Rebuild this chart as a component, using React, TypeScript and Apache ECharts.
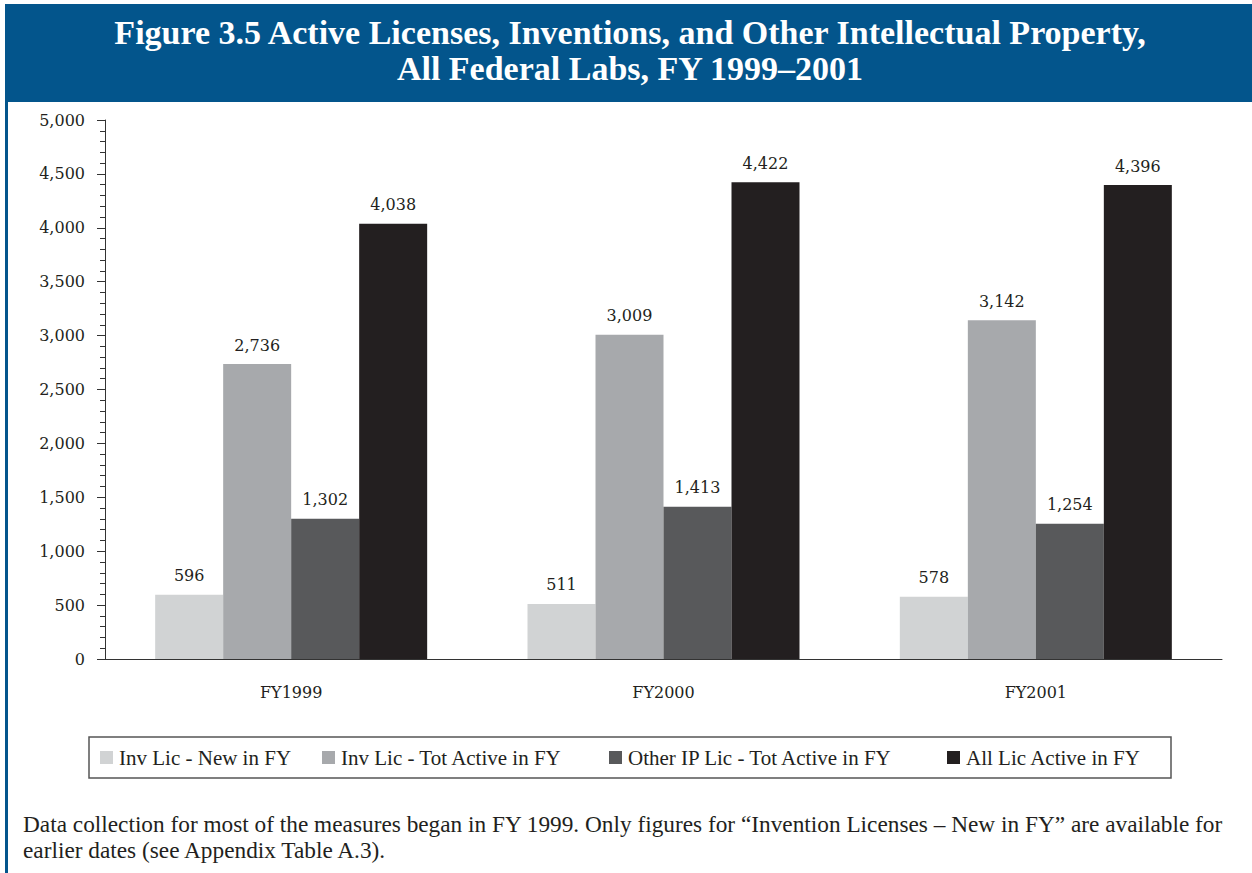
import React, { useEffect, useRef } from "react";
import * as echarts from "echarts";

const categories = ["FY1999", "FY2000", "FY2001"];
const seriesNames = [
  "Inv Lic - New in FY",
  "Inv Lic - Tot Active in FY",
  "Other IP Lic - Tot Active in FY",
  "All Lic Active in FY",
];
const invLicNew = [596, 511, 578];
const invLicTot = [2736, 3009, 3142];
const otherIpLic = [1302, 1413, 1254];
const allLicActive = [4038, 4422, 4396];
const seriesValues = [invLicNew, invLicTot, otherIpLic, allLicActive];
const seriesColors = ["#d1d3d4", "#a7a9ac", "#58595b", "#231f20"];
const titleLines = [
  "Figure 3.5 Active Licenses, Inventions, and Other Intellectual Property,",
  "All Federal Labs, FY 1999–2001",
];
const footnoteLines = [
  "Data collection for most of the measures began in FY 1999. Only figures for \u201cInvention Licenses \u2013 New in FY\u201d are available for",
  "earlier dates (see Appendix Table A.3).",
];

const fmt = (v: number) => v.toLocaleString("en-US");
const SERIF = '"DejaVu Serif", serif';
const TIMES = '"Liberation Serif", serif';
const INK = "#231f20";

export default function App() {
  const ref = useRef<HTMLDivElement>(null);
  useEffect(() => {
    if (!ref.current) return;
    const chart = echarts.init(ref.current, undefined, { renderer: "svg" });
    const legendLefts = [100, 322, 609, 947];
    const option: any = {
      animation: false,
      backgroundColor: "#ffffff",
      grid: { left: 105, right: 30, top: 120, bottom: 214 },
      legend: seriesNames.map((n, i) => ({
        data: [n],
        left: legendLefts[i],
        top: 747,
        padding: 0,
        itemWidth: 13,
        itemHeight: 13,
        icon: "rect",
        selectedMode: false,
        textStyle: { fontFamily: TIMES, fontSize: 21, color: INK, padding: [0, 0, 0, 1] },
      })),
      xAxis: {
        type: "category",
        data: categories,
        axisLine: { lineStyle: { color: "#333", width: 1 } },
        axisTick: { length: 8, lineStyle: { color: "#333" } },
        axisLabel: { margin: 25, fontFamily: SERIF, fontSize: 16, color: INK },
      },
      yAxis: {
        type: "value",
        min: 0,
        max: 5000,
        interval: 500,
        axisLine: { show: true, lineStyle: { color: "#333", width: 1 } },
        axisTick: { show: true, length: 8, lineStyle: { color: "#333" } },
        minorTick: { show: true, splitNumber: 5, length: 5, lineStyle: { color: "#333" } },
        splitLine: { show: false },
        axisLabel: { margin: 20, fontFamily: SERIF, fontSize: 16, color: INK, formatter: (v: number) => fmt(v) },
      },
      series: seriesNames.map((n, i) => ({
        name: n,
        type: "bar",
        data: seriesValues[i],
        barWidth: 68,
        barGap: "0%",
        itemStyle: { color: seriesColors[i] },
        label: {
          show: true,
          position: "top",
          distance: 11,
          fontFamily: SERIF,
          fontSize: 16,
          color: INK,
          formatter: (p: any) => fmt(p.value),
        },
      })),
      graphic: [
        { type: "rect", shape: { x: 5, y: 4, width: 1247, height: 98 }, style: { fill: "#03558c" }, silent: true },
        { type: "rect", shape: { x: 5, y: 100, width: 3, height: 773 }, style: { fill: "#03558c" }, silent: true },
        ...titleLines.map((t, i) => ({
          type: "text",
          x: 630,
          y: 32 + i * 36,
          style: { text: t, align: "center", verticalAlign: "middle", font: `bold 34px ${TIMES}`, fill: "#ffffff" },
          silent: true,
        })),
        {
          type: "rect",
          shape: { x: 89, y: 737, width: 1082, height: 41 },
          style: { fill: "none", stroke: "#555", lineWidth: 1.5 },
          silent: true,
        },
        ...footnoteLines.map((t, i) => ({
          type: "text",
          x: 23,
          y: 824 + i * 26,
          style: { text: t, align: "left", verticalAlign: "middle", font: `23.3px ${TIMES}`, fill: INK },
          silent: true,
        })),
      ],
    };
    chart.setOption(option);
    return () => chart.dispose();
  }, []);
  return <div ref={ref} style={{ position: "absolute", left: 0, top: 0, width: 1252, height: 873 }} />;
}
